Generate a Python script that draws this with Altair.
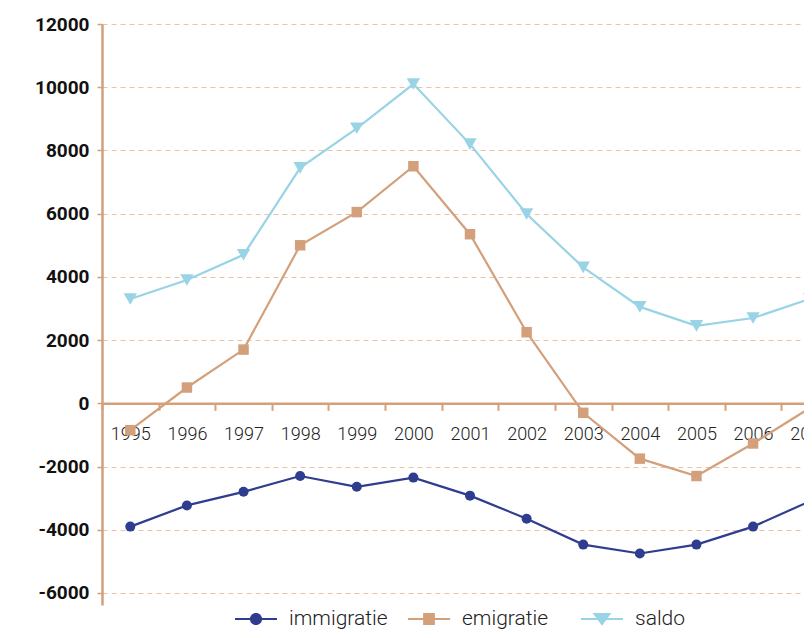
import altair as alt
import pandas as pd

years = [str(y) for y in range(1995, 2008)]
immigratie = [-3900, -3230, -2800, -2300, -2640, -2350, -2920, -3650, -4470, -4750, -4470, -3900, -3100]
emigratie = [-850, 500, 1700, 5000, 6050, 7500, 5350, 2250, -300, -1750, -2300, -1270, -150]
saldo = [3300, 3900, 4700, 7450, 8700, 10100, 8200, 5990, 4300, 3050, 2450, 2700, 3300]
series_names = ["immigratie", "emigratie", "saldo"]
series_values = [immigratie, emigratie, saldo]
colors = ["#2f3d8e", "#d3a07b", "#98d4e5"]
shapes = ["circle", "square", "triangle-down"]
sizes = [100, 110, 180]
y_ticks = list(range(-6000, 12001, 2000))

TAN = "#d3a07b"
GRID = "#ebc2a4"

# legend symbols: a short line with the marker in the middle (unit box -1..1)
line_part = "M-1,-0.05H1V0.05H-1Z"
legend_paths = [
    line_part + " M0.29,0A0.29,0.29 0 1,1 -0.29,0A0.29,0.29 0 1,1 0.29,0Z",
    line_part + " M-0.28,-0.28H0.28V0.28H-0.28Z",
    line_part + " M-0.45,-0.28H0.45L0,0.32Z",
]

rows = []
for name, vals in zip(series_names, series_values):
    for yr, v in zip(years, vals):
        rows.append({"year": yr, "value": v, "series": name})
df = pd.DataFrame(rows)

y_min, y_max = -6380, 12000
plot_h = 581
plot_w = 702          # visible plot area (page is 812 wide)
band_range = 736      # full extent of the 13 year bands; the last one runs off the edge
zero_offset = -(0 - y_min) / (y_max - y_min) * plot_h

x_enc = alt.X(
    "year:O",
    scale=alt.Scale(type="band", domain=years, paddingInner=0, paddingOuter=0,
                    range=[0, band_range]),
    axis=alt.Axis(
        title=None, offset=zero_offset, tickBand="extent",
        domainColor=TAN, domainWidth=2.5, tickColor=TAN, tickSize=7, tickWidth=2,
        labelFont="Roboto", labelFontSize=18, labelFontWeight=300, labelColor="#222",
        labelPadding=15, labelAngle=0, labelOverlap=False, grid=False,
    ),
)
y_enc = alt.Y(
    "value:Q",
    scale=alt.Scale(domain=[y_min, y_max], nice=False, zero=False),
    axis=alt.Axis(
        title=None, values=y_ticks, labelExpr="'' + datum.value",
        labelFont="Roboto", labelFontWeight="bold", labelFontSize=19, labelColor="#111",
        labelPadding=8, tickColor=TAN, tickSize=5, tickWidth=1.5,
        domainColor=TAN, domainWidth=2.5,
        grid=True, gridColor=GRID, gridDash=[5, 4], gridWidth=1,
    ),
)

base = alt.Chart(df).encode(x=x_enc, y=y_enc)

layers = []
for name, c in zip(series_names, colors):
    layers.append(
        base.transform_filter(alt.datum.series == name).mark_line(
            color=c, strokeWidth=2.2, clip=True)
    )
for name, c, s, sz in zip(series_names, colors, shapes, sizes):
    layers.append(
        base.transform_filter(alt.datum.series == name).mark_point(
            filled=True, shape=s, size=sz, color=c, opacity=1, clip=True
        )
    )

legend_def = alt.Legend(
    title=None, orient="none", legendX=133, legendY=574, direction="horizontal",
    symbolSize=1764, symbolStrokeWidth=0, symbolOpacity=1,
    labelFont="Roboto", labelFontSize=21, labelFontWeight=300, labelColor="#222",
    labelOffset=12, columnPadding=20, gridAlign="all", padding=0,
)
legend_layer = alt.Chart(df).transform_filter("false").mark_point(filled=True, opacity=1).encode(
    color=alt.Color("series:N", scale=alt.Scale(domain=series_names, range=colors), legend=legend_def),
    shape=alt.Shape("series:N", scale=alt.Scale(domain=series_names, range=legend_paths), legend=legend_def),
)
layers.append(legend_layer)

chart = alt.layer(*layers).properties(
    width=plot_w, height=plot_h, autosize="none",
    padding={"left": 94, "top": 16, "right": 0, "bottom": 25},
    background="white",
).configure_view(stroke=None)

chart.save("out.html", embed_options={"renderer": "svg", "actions": False})
